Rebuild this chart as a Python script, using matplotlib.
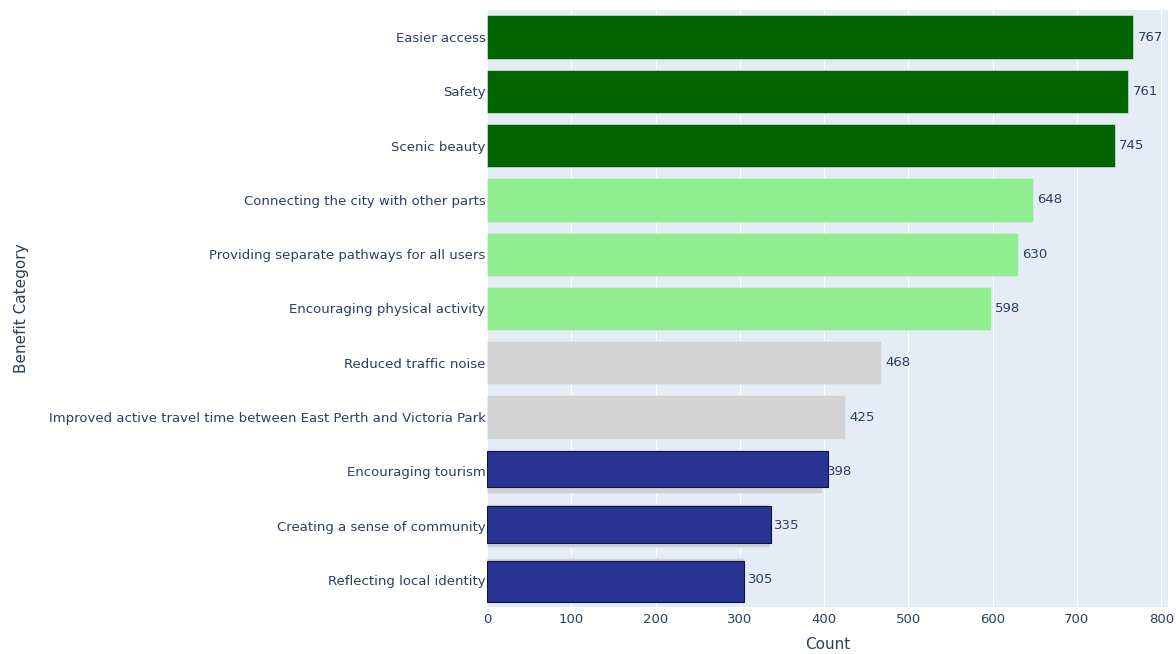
import matplotlib
matplotlib.use('Agg')
import matplotlib.pyplot as plt

# ---- data ----
categories = [
    "Easier access",
    "Safety",
    "Scenic beauty",
    "Connecting the city with other parts",
    "Providing separate pathways for all users",
    "Encouraging physical activity",
    "Reduced traffic noise",
    "Improved active travel time between East Perth and Victoria Park",
    "Encouraging tourism",
    "Creating a sense of community",
    "Reflecting local identity",
]
counts = [767, 761, 745, 648, 630, 598, 468, 425, 398, 335, 305]
groups = ["top", "top", "top", "mid", "mid", "mid", "neutral", "neutral", "low", "low", "low"]
# overlay bars drawn on top of the low group (as rendered in the reference)
overlay_categories = ["Encouraging tourism", "Creating a sense of community", "Reflecting local identity"]
overlay_counts = [404, 337, 305]

# ---- style ----
group_colors = {"top": "#006400", "mid": "#90EE90", "neutral": "#D3D3D3", "low": "#D0D0D0"}
overlay_color = "#283593"
overlay_top_gap = [0.022, 0.037, 0.050]
overlay_bottom_gap = [0.109, 0.075, 0.0]

TXT = "#2a3f5f"
BG = "#E5ECF6"
FS = 9.5
plt.rcParams['font.family'] = ['DejaVu Sans']

fig = plt.figure(figsize=(11.76, 6.54), dpi=100)
ax = fig.add_axes([487/1176, 1 - 607/654, (1168-487)/1176, (607-10)/654])
ax.set_facecolor(BG)

ypos = list(range(len(categories)))
ax.barh(ypos, counts, height=0.8, color=[group_colors[g] for g in groups],
        edgecolor=BG, linewidth=0.4, zorder=2)

for i, (cat, val) in enumerate(zip(overlay_categories, overlay_counts)):
    idx = categories.index(cat)
    top = idx - 0.4 + overlay_top_gap[i]
    bot = idx + 0.4 - overlay_bottom_gap[i]
    ax.barh((top + bot) / 2, val, height=bot - top, color=overlay_color,
            edgecolor="#10123a", linewidth=0.8, zorder=3)

for i, val in enumerate(counts):
    ax.annotate(str(val), xy=(val, i), xytext=(3, 0), textcoords='offset points',
                ha='left', va='center', fontsize=FS, color=TXT, zorder=5)

ax.set_xlim(0, 808)
ax.set_ylim(len(categories) - 0.5, -0.5)
ax.set_xticks(range(0, 801, 100))
ax.set_yticks(ypos)
ax.set_yticklabels(categories)
ax.tick_params(axis='both', length=0, labelsize=FS, labelcolor=TXT)
ax.tick_params(axis='y', pad=1)
ax.tick_params(axis='x', pad=4)
ax.grid(axis='x', color='white', linewidth=0.8, zorder=1)
ax.set_axisbelow(True)
for s in ax.spines.values():
    s.set_visible(False)

ax.set_xlabel("Count", fontsize=11, color=TXT, labelpad=8)
fig.text(22/1176, 1 - 308/654, "Benefit Category", rotation=90, ha='center', va='center',
         fontsize=11, color=TXT)

fig.savefig("out.png", dpi=100, facecolor='white')
